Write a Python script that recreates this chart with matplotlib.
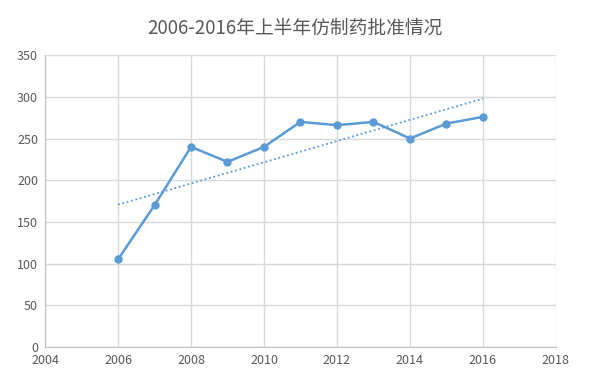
import numpy as np
import matplotlib
matplotlib.use("Agg")
import matplotlib.pyplot as plt

plt.rcParams['font.family'] = ['Noto Sans CJK SC', 'DejaVu Sans']

# data
years = [2006, 2007, 2008, 2009, 2010, 2011, 2012, 2013, 2014, 2015, 2016]
approvals = [105, 170, 240, 222, 240, 270, 266, 270, 250, 268, 276]
title = "2006-2016年上半年仿制药批准情况"

blue = "#5B9BD5"
grey_text = "#595959"
grid_col = "#D9D9D9"

fig = plt.figure(figsize=(5.9, 3.83), dpi=100)
ax = fig.add_axes([0.0763, 0.094, 0.866, 0.762])

ax.plot(years, approvals, color=blue, lw=1.8, marker="o", ms=5, zorder=3)

# linear trend line
slope, intercept = np.polyfit(years, approvals, 1)
xt = np.array([years[0], years[-1]])
ax.plot(xt, slope * xt + intercept, color=blue, lw=1.3, ls=(0, (1, 1.5)), zorder=2)

ax.set_xlim(2004, 2018)
ax.set_ylim(0, 350)
ax.set_xticks(range(2004, 2019, 2))
ax.set_yticks(range(0, 351, 50))
ax.grid(True, color=grid_col, lw=1)
ax.set_axisbelow(True)

for side in ["top", "right"]:
    ax.spines[side].set_visible(False)
for side in ["left", "bottom"]:
    ax.spines[side].set_color("#BFBFBF")
ax.tick_params(length=0, labelsize=9, colors=grey_text, pad=5)

fig.suptitle(title, y=0.955, fontsize=13.5, color=grey_text)

fig.savefig("out.png", dpi=100)
